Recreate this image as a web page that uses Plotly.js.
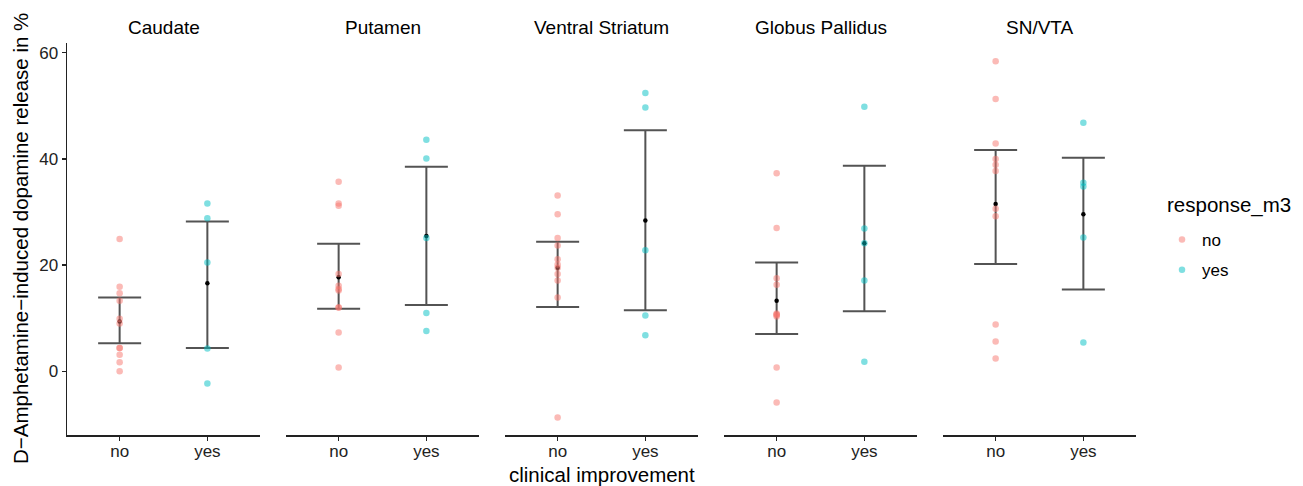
<!DOCTYPE html>
<html>
<head>
<meta charset="utf-8">
<script src="https://cdn.plot.ly/plotly-3.0.1.min.js"></script>
<style>html,body{margin:0;padding:0;background:#fff;}#chart{width:1303px;height:486px;}</style>
</head>
<body>
<div id="chart"></div>
<script>
// ---- data ----
const regions = ['Caudate', 'Putamen', 'Ventral Striatum', 'Globus Pallidus', 'SN/VTA'];
const groups = ['no', 'yes'];

const caudateNo  = [24.9, 15.9, 14.7, 13.3, 9.9, 9.0, 4.4, 4.4, 3.1, 1.7, 0.0];
const caudateYes = [31.6, 28.8, 20.5, 4.3, -2.3];
const putamenNo  = [35.7, 31.6, 31.2, 18.3, 16.1, 15.5, 15.2, 12.0, 12.0, 7.3, 0.7];
const putamenYes = [43.6, 40.1, 25.1, 11.0, 7.6];
const ventralNo  = [33.1, 29.6, 25.1, 23.7, 21.1, 20.1, 19.5, 18.3, 17.1, 13.9, -8.7];
const ventralYes = [52.4, 49.7, 22.8, 10.5, 6.8];
const globusNo   = [37.3, 27.0, 17.5, 16.3, 10.9, 10.7, 10.6, 10.3, 0.7, -5.9];
const globusYes  = [49.8, 26.9, 24.1, 17.1, 1.8];
const snvtaNo    = [58.4, 51.3, 42.9, 40.0, 38.9, 37.7, 30.6, 29.2, 8.8, 5.6, 2.4];
const snvtaYes   = [46.8, 35.5, 34.8, 25.2, 5.4];

const meanNo   = [9.4, 17.7, 19.5, 13.3, 31.5];
const ciLowNo  = [5.3, 11.8, 12.1, 7.0, 20.2];
const ciHighNo = [13.9, 24.0, 24.4, 20.5, 41.7];
const meanYes   = [16.6, 25.5, 28.4, 24.1, 29.6];
const ciLowYes  = [4.4, 12.5, 11.5, 11.3, 15.4];
const ciHighYes = [28.2, 38.5, 45.4, 38.7, 40.2];

const yTicks = [0, 20, 40, 60];

const pointsNo  = [caudateNo, putamenNo, ventralNo, globusNo, snvtaNo];
const pointsYes = [caudateYes, putamenYes, ventralYes, globusYes, snvtaYes];

// ---- styling ----
const FONT = 'Liberation Sans, Arial, Helvetica, sans-serif';
const colNo = '#F8766D', colYes = '#00BFC4';
const W = 1303, H = 486;
const mL = 67, mR = 167, mT = 43, mB = 51;
const plotW = W - mL - mR;
const plotH = H - mT - mB;
const panelW = 193, panelStep = 219;

const traces = [];
const layout = {
  width: W, height: H,
  margin: {l: mL, r: mR, t: mT, b: mB, pad: 0},
  paper_bgcolor: '#fff', plot_bgcolor: '#fff',
  font: {family: FONT, color: '#000', size: 17},
  showlegend: true,
  legend: {
    x: (1162 - mL) / plotW, xanchor: 'left',
    y: 1 - (222 - mT) / plotH, yanchor: 'top',
    font: {family: FONT, size: 17, color: '#000'},
    tracegroupgap: 5,
    bgcolor: 'rgba(0,0,0,0)'
  },
  annotations: [],
  yaxis: {
    range: [-12.0, 61.83], tickvals: yTicks, ticktext: yTicks.map(String),
    showline: true, linecolor: '#222', linewidth: 1.5,
    ticks: 'outside', ticklen: 4, tickwidth: 1.3, tickcolor: '#222',
    showgrid: false, zeroline: false, anchor: 'x', fixedrange: true,
    tickfont: {family: FONT, size: 17, color: '#222'}
  }
};

regions.forEach((reg, k) => {
  const xa = k === 0 ? 'x' : 'x' + (k + 1);
  const axKey = k === 0 ? 'xaxis' : 'xaxis' + (k + 1);
  const d0 = (panelStep * k) / plotW;
  const d1 = (panelStep * k + panelW) / plotW;
  layout[axKey] = {
    domain: [d0, d1], anchor: 'y',
    type: 'category', categoryorder: 'array', categoryarray: groups,
    range: [-0.6, 1.6],
    showline: true, linecolor: '#222', linewidth: 1.5,
    ticks: 'outside', ticklen: 4, tickwidth: 1.3, tickcolor: '#222',
    ticklabelstandoff: -4,
    showgrid: false, zeroline: false, fixedrange: true,
    tickfont: {family: FONT, size: 17, color: '#222'}
  };
  // error bars + mean
  traces.push({
    type: 'scatter', mode: 'markers', xaxis: xa, yaxis: 'y',
    x: groups, y: [meanNo[k], meanYes[k]],
    marker: {color: '#000', size: 4.5},
    error_y: {
      type: 'data', symmetric: false,
      array: [ciHighNo[k] - meanNo[k], ciHighYes[k] - meanYes[k]],
      arrayminus: [meanNo[k] - ciLowNo[k], meanYes[k] - ciLowYes[k]],
      color: 'rgba(40,40,40,0.8)', thickness: 2, width: 21.5
    },
    showlegend: false, hoverinfo: 'skip'
  });
  // points
  traces.push({
    type: 'scatter', mode: 'markers', xaxis: xa, yaxis: 'y',
    x: pointsNo[k].map(() => 'no'), y: pointsNo[k],
    marker: {color: colNo, size: 6.5, opacity: 0.5},
    name: 'no', legendgroup: 'no', showlegend: k === 0
  });
  traces.push({
    type: 'scatter', mode: 'markers', xaxis: xa, yaxis: 'y',
    x: pointsYes[k].map(() => 'yes'), y: pointsYes[k],
    marker: {color: colYes, size: 6.5, opacity: 0.5},
    name: 'yes', legendgroup: 'yes', showlegend: k === 0
  });
  // strip title
  layout.annotations.push({
    text: reg, xref: 'paper', yref: 'paper',
    x: (d0 + d1) / 2, xanchor: 'center',
    y: 1 + (mT - 27.5) / plotH, yanchor: 'middle',
    showarrow: false, font: {family: FONT, size: 19, color: '#000'}
  });
});

// legend title
layout.annotations.push({
  text: 'response_m3', xref: 'paper', yref: 'paper',
  x: (1165 - mL) / plotW, xanchor: 'left',
  y: 1 - (205 - mT) / plotH, yanchor: 'middle',
  showarrow: false, font: {family: FONT, size: 20.5, color: '#000'}
});

// axis titles
layout.annotations.push({
  text: 'clinical improvement', xref: 'paper', yref: 'paper',
  x: 0.5, xanchor: 'center',
  y: -(474 - (H - mB)) / plotH, yanchor: 'middle',
  showarrow: false, font: {family: FONT, size: 20.5, color: '#000'}
});
layout.annotations.push({
  text: 'D\u2212Amphetamine\u2212induced dopamine release in %',
  xref: 'paper', yref: 'paper',
  x: (20 - mL) / plotW, xanchor: 'center',
  y: 0.5, yanchor: 'middle', textangle: -90,
  showarrow: false, font: {family: FONT, size: 20.5, color: '#000'}
});

Plotly.newPlot('chart', traces, layout, {displayModeBar: false, staticPlot: true});
</script>
</body>
</html>
